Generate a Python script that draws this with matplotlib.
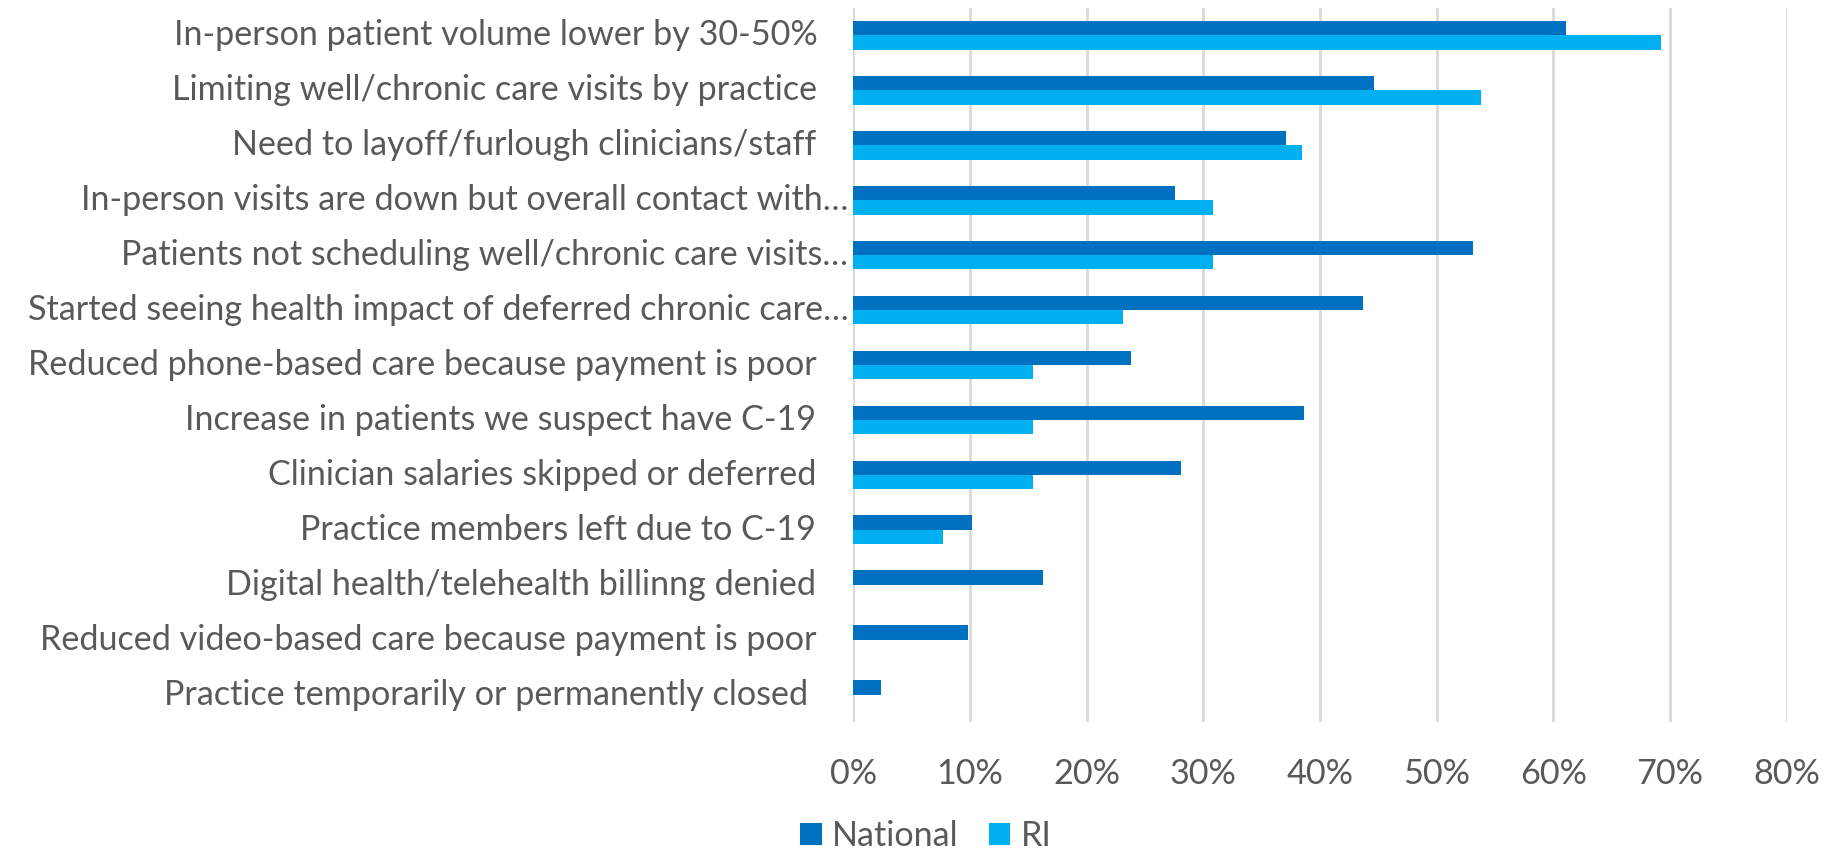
import matplotlib
matplotlib.use("Agg")
import matplotlib.pyplot as plt
import matplotlib.transforms as mtransforms
from matplotlib.patches import Patch
import numpy as np

categories = [
    "In-person patient volume lower by 30-50%",
    "Limiting well/chronic care visits by practice",
    "Need to layoff/furlough clinicians/staff",
    "In-person visits are down but overall contact with…",
    "Patients not scheduling well/chronic care visits…",
    "Started seeing health impact of deferred chronic care…",
    "Reduced phone-based care because payment is poor",
    "Increase in patients we suspect have C-19",
    "Clinician salaries skipped or deferred",
    "Practice members left due to C-19",
    "Digital health/telehealth billinng denied",
    "Reduced video-based care because payment is poor",
    "Practice temporarily or permanently closed",
]
national = [61.1, 44.6, 37.1, 27.6, 53.1, 43.7, 23.8, 38.6, 28.1, 10.2, 16.3, 9.8, 2.4]
ri = [69.2, 53.8, 38.5, 30.8, 30.8, 23.1, 15.4, 15.4, 15.4, 7.7, 0, 0, 0]
series_names = ["National", "RI"]
xticks = [0, 10, 20, 30, 40, 50, 60, 70, 80]

# layout (pixels left of axis where each label ends)
label_gap_px = [36, 36, 37, 5, 5, 5, 37, 37, 37, 37, 37, 37, 45]

C_NAT = "#0070C0"
C_RI = "#00B0F0"
TXT = "#595959"
FONT = "Lato"
FS = 24.6

plt.rcParams["font.family"] = [FONT, "DejaVu Sans"]

W, H = 1835, 852
fig = plt.figure(figsize=(W / 100, H / 100), dpi=100)
ax = fig.add_axes([853.3 / W, 1 - 722 / H, (1786.7 - 853.3) / W, (722 - 8) / H])

idx = np.arange(len(categories))
bh = 0.26
ax.barh(idx - bh / 2, national, height=bh, color=C_NAT, zorder=3)
ax.barh(idx + bh / 2, ri, height=bh, color=C_RI, zorder=3)

ax.set_ylim(len(categories) - 0.5, -0.5)
ax.set_xlim(0, 80)
ax.set_xticks(xticks)
ax.set_xticklabels([f"{v}%" for v in xticks], fontsize=FS, color=TXT)
ax.tick_params(axis="x", length=0, pad=26)
ax.set_yticks([])
ax.grid(axis="x", color="#D9D9D9", linewidth=2, zorder=0)
for s in ax.spines.values():
    s.set_visible(False)

for i, (cat, gap) in enumerate(zip(categories, label_gap_px)):
    tr = mtransforms.blended_transform_factory(ax.transAxes, ax.transData) + \
        mtransforms.ScaledTranslation(-gap / 100, 0, fig.dpi_scale_trans)
    ax.text(0, i, cat, transform=tr, ha="right", va="center",
            fontsize=FS, color=TXT)

handles = [Patch(facecolor=C_NAT), Patch(facecolor=C_RI)]
fig.legend(handles, series_names, loc="center", bbox_to_anchor=(926 / W, 1 - 836 / H),
           ncol=2, frameon=False, fontsize=FS, labelcolor=TXT,
           handlelength=0.62, handleheight=0.62, handletextpad=0.3,
           columnspacing=0.9, borderpad=0)

fig.savefig("out.png", dpi=100)
